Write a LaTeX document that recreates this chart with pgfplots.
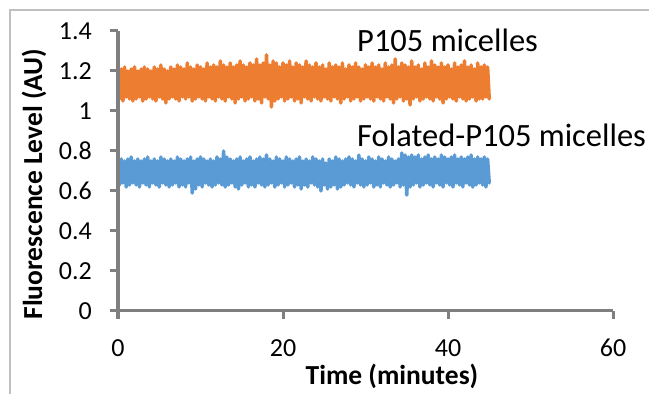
\documentclass[border=0pt]{standalone}
\usepackage{pgfplots}
\pgfplotsset{compat=1.18}
\usepackage{pgfplotstable}
\usepackage{fontspec}
\setmainfont{Carlito}
\definecolor{orng}{HTML}{ED7D31}
\definecolor{blu}{HTML}{5B9BD5}
\definecolor{axgray}{HTML}{7F7F7F}
\definecolor{framegray}{HTML}{BFBFBF}
\pgfplotstableread{
x o b
0.0 1.23 0.77
0.2 1.06 0.63
0.4 1.21 0.76
0.6 1.05 0.64
0.8 1.22 0.75
1.0 1.07 0.62
1.2 1.20 0.76
1.4 1.06 0.63
1.6 1.21 0.77
1.8 1.05 0.64
2.0 1.22 0.75
2.2 1.06 0.63
2.4 1.20 0.76
2.6 1.07 0.62
2.8 1.21 0.75
3.0 1.05 0.64
3.2 1.22 0.76
3.4 1.06 0.63
3.6 1.21 0.77
3.8 1.07 0.62
4.0 1.20 0.75
4.2 1.06 0.64
4.4 1.22 0.76
4.6 1.05 0.63
4.8 1.21 0.75
5.0 1.07 0.62
5.2 1.23 0.77
5.4 1.06 0.64
5.6 1.21 0.76
5.8 1.04 0.63
6.0 1.20 0.75
6.2 1.06 0.62
6.4 1.22 0.76
6.6 1.07 0.63
6.8 1.21 0.75
7.0 1.06 0.64
7.2 1.23 0.77
7.4 1.05 0.62
7.6 1.22 0.76
7.8 1.07 0.63
8.0 1.21 0.75
8.2 1.06 0.62
8.4 1.24 0.76
8.6 1.07 0.64
8.8 1.22 0.77
9.0 1.05 0.59
9.2 1.21 0.75
9.4 1.06 0.61
9.6 1.23 0.76
9.8 1.07 0.63
10.0 1.22 0.77
10.2 1.06 0.62
10.4 1.21 0.76
10.6 1.05 0.64
10.8 1.24 0.75
11.0 1.07 0.63
11.2 1.22 0.76
11.4 1.06 0.62
11.6 1.23 0.75
11.8 1.05 0.63
12.0 1.22 0.77
12.2 1.07 0.64
12.4 1.25 0.76
12.6 1.06 0.63
12.8 1.23 0.80
13.0 1.05 0.62
13.2 1.22 0.77
13.4 1.07 0.63
13.6 1.24 0.76
13.8 1.06 0.64
14.0 1.22 0.75
14.2 1.04 0.62
14.4 1.23 0.76
14.6 1.06 0.61
14.8 1.25 0.77
15.0 1.07 0.63
15.2 1.23 0.75
15.4 1.05 0.64
15.6 1.22 0.76
15.8 1.06 0.62
16.0 1.24 0.77
16.2 1.07 0.63
16.4 1.23 0.75
16.6 1.05 0.62
16.8 1.26 0.76
17.0 1.06 0.64
17.2 1.23 0.77
17.4 1.04 0.63
17.6 1.24 0.76
17.8 1.07 0.62
18.0 1.28 0.78
18.2 1.06 0.63
18.4 1.23 0.76
18.6 1.02 0.64
18.8 1.25 0.75
19.0 1.05 0.62
19.2 1.24 0.77
19.4 1.06 0.63
19.6 1.22 0.76
19.8 1.07 0.64
20.0 1.24 0.75
20.2 1.05 0.62
20.4 1.23 0.77
20.6 1.06 0.63
20.8 1.25 0.76
21.0 1.07 0.64
21.2 1.22 0.75
21.4 1.05 0.62
21.6 1.24 0.76
21.8 1.06 0.63
22.0 1.23 0.77
22.2 1.04 0.61
22.4 1.22 0.75
22.6 1.07 0.63
22.8 1.25 0.76
23.0 1.06 0.62
23.2 1.23 0.75
23.4 1.05 0.64
23.6 1.22 0.77
23.8 1.07 0.63
24.0 1.24 0.76
24.2 1.06 0.62
24.4 1.22 0.75
24.6 1.05 0.60
24.8 1.23 0.76
25.0 1.07 0.63
25.2 1.21 0.74
25.4 1.06 0.61
25.6 1.24 0.76
25.8 1.05 0.62
26.0 1.22 0.75
26.2 1.07 0.63
26.4 1.23 0.77
26.6 1.06 0.61
26.8 1.22 0.76
27.0 1.04 0.62
27.2 1.24 0.75
27.4 1.06 0.63
27.6 1.21 0.76
27.8 1.07 0.64
28.0 1.23 0.77
28.2 1.05 0.63
28.4 1.22 0.76
28.6 1.06 0.62
28.8 1.24 0.75
29.0 1.07 0.64
29.2 1.22 0.78
29.4 1.05 0.63
29.6 1.21 0.76
29.8 1.06 0.62
30.0 1.23 0.75
30.2 1.07 0.63
30.4 1.22 0.77
30.6 1.06 0.64
30.8 1.24 0.76
31.0 1.05 0.62
31.2 1.22 0.75
31.4 1.07 0.63
31.6 1.23 0.77
31.8 1.06 0.62
32.0 1.21 0.76
32.2 1.05 0.64
32.4 1.24 0.75
32.6 1.07 0.63
32.8 1.22 0.77
33.0 1.06 0.62
33.2 1.23 0.76
33.4 1.04 0.63
33.6 1.26 0.75
33.8 1.06 0.64
34.0 1.22 0.76
34.2 1.07 0.62
34.4 1.24 0.79
34.6 1.05 0.63
34.8 1.23 0.78
35.0 1.06 0.58
35.2 1.22 0.77
35.4 1.03 0.62
35.6 1.25 0.78
35.8 1.06 0.63
36.0 1.22 0.77
36.2 1.07 0.64
36.4 1.23 0.78
36.6 1.05 0.62
36.8 1.21 0.76
37.0 1.06 0.63
37.2 1.24 0.77
37.4 1.07 0.64
37.6 1.22 0.78
37.8 1.06 0.63
38.0 1.25 0.76
38.2 1.05 0.62
38.4 1.23 0.77
38.6 1.07 0.64
38.8 1.22 0.76
39.0 1.06 0.63
39.2 1.24 0.78
39.4 1.04 0.62
39.6 1.22 0.77
39.8 1.06 0.64
40.0 1.23 0.76
40.2 1.07 0.63
40.4 1.21 0.77
40.6 1.06 0.62
40.8 1.24 0.78
41.0 1.05 0.64
41.2 1.22 0.76
41.4 1.07 0.63
41.6 1.23 0.77
41.8 1.06 0.62
42.0 1.25 0.76
42.2 1.05 0.64
42.4 1.22 0.77
42.6 1.06 0.63
42.8 1.23 0.78
43.0 1.07 0.62
43.2 1.21 0.76
43.4 1.05 0.63
43.6 1.24 0.77
43.8 1.06 0.64
44.0 1.22 0.76
44.2 1.06 0.63
44.4 1.23 0.77
44.6 1.07 0.62
44.8 1.22 0.76
45.0 1.06 0.64
}\data
\begin{document}
\begin{tikzpicture}
\begin{axis}[
  name=ax, at={(118pt,83pt)}, anchor=south west,
  scale only axis, width=495pt, height=280pt,
  xmin=0, xmax=60, ymin=0, ymax=1.4,
  clip=false,
  xtick={0,20,40,60},
  ytick={0,0.2,0.4,0.6,0.8,1,1.2,1.4},
  yticklabels={0,0.2,0.4,0.6,0.8,1,1.2,1.4},
  xticklabels={0,20,40,60},
  axis lines*=left,
  axis line style={axgray, line width=3pt},
  tick align=outside, major tick length=8pt,
  every major tick/.append style={axgray, line width=3pt},
  /pgf/number format/assume math mode=true,
  ticklabel style={font=\fontsize{26}{30}\selectfont, text=black},
  yticklabel style={anchor=east, inner sep=0pt, xshift=-18pt},
  xticklabel style={anchor=base, inner sep=0pt, yshift=-38pt},
]
\addplot[orng, line width=3.5pt, line join=round, line cap=round, mark=none] table[x=x, y=o] {\data};
\addplot[blu, line width=3.5pt, line join=round, line cap=round, mark=none] table[x=x, y=b] {\data};
\draw[axgray, line width=3pt] (axis cs:0,1.4) -- (axis cs:0,0) -- (axis cs:60,0);
\pgfplotsinvokeforeach{0,0.2,0.4,0.6,0.8,1,1.2,1.4}{
  \draw[axgray, line width=3pt] (axis cs:0,#1) -- ++(-8pt,0pt);
}
\pgfplotsinvokeforeach{0,20,40,60}{
  \draw[axgray, line width=3pt] (axis cs:#1,0) -- ++(0pt,-8pt);
}
\end{axis}
\node[anchor=base west, inner sep=0pt, font=\fontsize{32.5}{38}\selectfont] at (357pt,342pt) {P105 micelles};
\node[anchor=base west, inner sep=0pt, font=\fontsize{32.5}{38}\selectfont] at (357pt,247pt) {Folated-P105 micelles};
\node[rotate=90, anchor=base, inner sep=0pt, font=\bfseries\fontsize{27.5}{32}\selectfont] at (42pt,210pt) {Fluorescence Level (AU)};
\node[anchor=base, inner sep=0pt, font=\bfseries\fontsize{27.5}{32}\selectfont] at (392pt,9pt) {Time (minutes)};
\draw[framegray, line width=1.5pt] (10pt,-20pt) -- (10pt,384pt) -- (700pt,384pt);
\pgfresetboundingbox
\path[use as bounding box] (0pt,0pt) rectangle (649pt,394pt);
\end{tikzpicture}
\end{document}
